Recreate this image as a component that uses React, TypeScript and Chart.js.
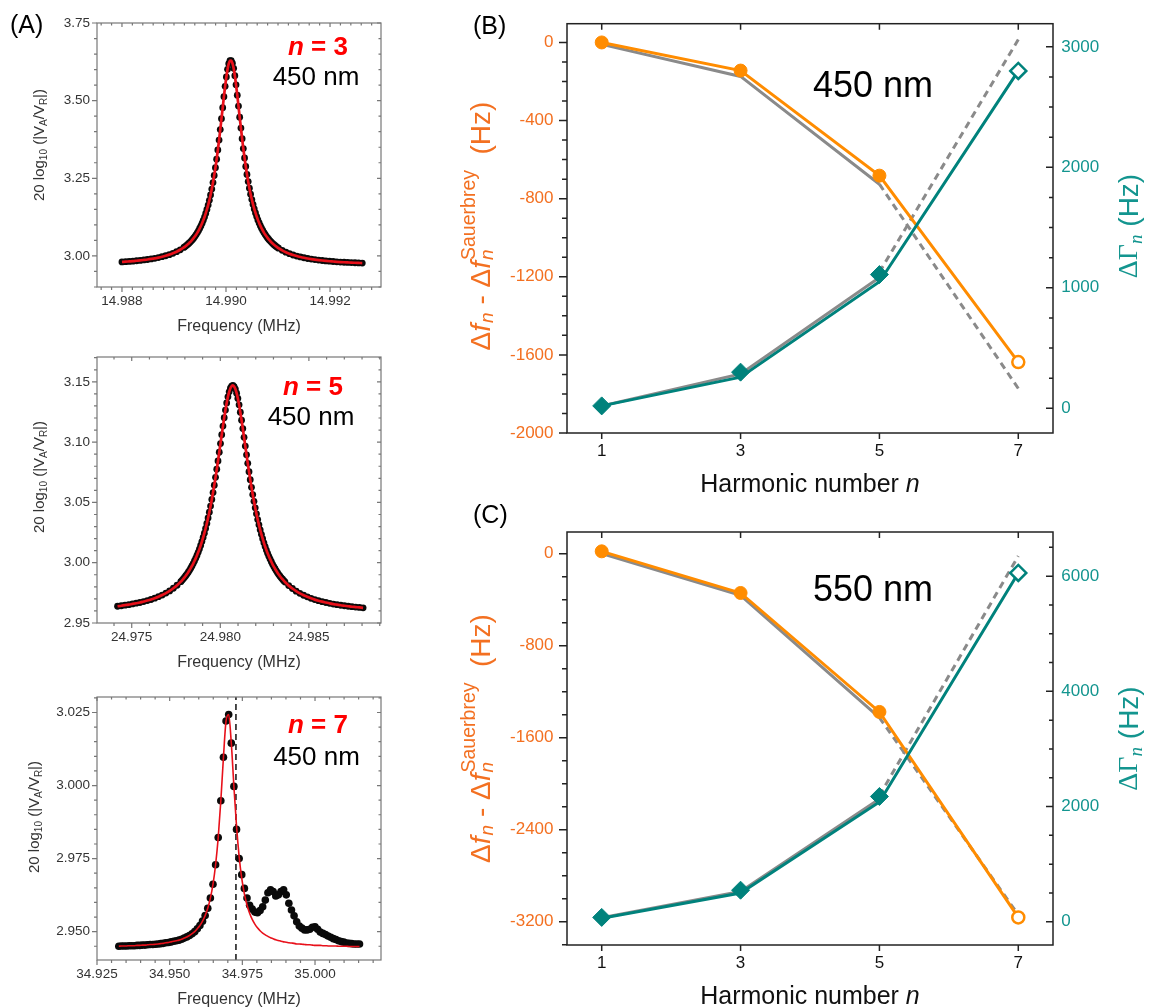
import React, { useEffect, useRef } from 'react';
import { Chart, registerables } from 'chart.js';

Chart.register(...registerables);

const PAGE_W = 1149;
const PAGE_H = 1008;
const SANS = '"Liberation Sans", Arial, Helvetica, sans-serif';
const SERIF = '"Liberation Serif", "Times New Roman", serif';

const ORANGE = '#FF8C00';
const ORANGE_TXT = '#F37021';
const TEAL = '#00827C';
const TEAL_TXT = '#13958F';
const GRAY = '#8A8A8A';
const RED = '#E8101A';
const RED_TXT = '#FF0000';

// ---------------- Panel A data (n = 3) ----------------
const A1_FREQ = [
  14.988, 14.98807, 14.98814, 14.98821, 14.98828, 14.98835, 14.98842, 14.98849, 14.98856, 14.98863,
  14.9887, 14.98877, 14.98884, 14.98891, 14.98898, 14.98905, 14.98912,
  14.98919, 14.989213, 14.989237, 14.98926, 14.989283, 14.989307, 14.98933, 14.989353, 14.989377,
  14.9894, 14.989423, 14.989447, 14.98947, 14.989493, 14.989517, 14.98954, 14.989563, 14.989587,
  14.98961, 14.989633, 14.989657, 14.98968, 14.989703, 14.989727, 14.98975, 14.989773, 14.989797,
  14.98982, 14.989843, 14.989867, 14.98989, 14.989913, 14.989937, 14.98996, 14.989983, 14.990007,
  14.99003, 14.990053, 14.990077, 14.9901, 14.990123, 14.990147, 14.99017, 14.990193, 14.990217,
  14.99024, 14.990263, 14.990287, 14.99031, 14.990333, 14.990357, 14.99038, 14.990403, 14.990427,
  14.99045, 14.990473, 14.990497, 14.99052, 14.990543, 14.990567, 14.99059, 14.990613, 14.990637,
  14.99066, 14.990683, 14.990707, 14.99073, 14.990753, 14.990777, 14.9908, 14.990823, 14.990847,
  14.99087, 14.990893, 14.990917, 14.99094, 14.990963, 14.990987,
  14.99101, 14.99108, 14.99115, 14.99122, 14.99129, 14.99136, 14.99143,
  14.9915, 14.99157, 14.99164, 14.99171, 14.99178, 14.99185, 14.99192, 14.99199, 14.99206, 14.99213,
  14.9922, 14.99227, 14.99234, 14.99241, 14.99248, 14.99255, 14.99262,
];
const A1_AMP = [
  2.9807, 2.9815, 2.9824, 2.9833, 2.9845, 2.9857, 2.9871, 2.9886, 2.9904, 2.9924,
  2.9948, 2.9975, 3.0006, 3.0042, 3.0085, 3.0137, 3.0198,
  3.0273, 3.0302, 3.0333, 3.0365, 3.0401, 3.0439, 3.048, 3.0524, 3.0573,
  3.0624, 3.0681, 3.0743, 3.081, 3.0883, 3.0963, 3.1051, 3.1147, 3.1252,
  3.1368, 3.1496, 3.1637, 3.1792, 3.1964, 3.2153, 3.2362, 3.259, 3.2841,
  3.3115, 3.3412, 3.373, 3.4067, 3.4418, 3.4775, 3.5128, 3.5462, 3.5762,
  3.601, 3.6189, 3.6285, 3.6291, 3.6208, 3.604, 3.5801, 3.5508, 3.5177,
  3.4826, 3.4469, 3.4116, 3.3777, 3.3456, 3.3156, 3.2879, 3.2625, 3.2393,
  3.2181, 3.199, 3.1816, 3.1658, 3.1515, 3.1386, 3.1268, 3.1161, 3.1064,
  3.0975, 3.0894, 3.082, 3.0752, 3.069, 3.0632, 3.058, 3.0531, 3.0486,
  3.0445, 3.0406, 3.037, 3.0337, 3.0306, 3.0277,
  3.025, 3.018, 3.0121, 3.0072, 3.0031, 2.9996, 2.9967,
  2.9941, 2.9918, 2.9899, 2.9882, 2.9867, 2.9853, 2.9841, 2.983, 2.9821, 2.9812,
  2.9804, 2.9797, 2.9791, 2.9785, 2.978, 2.9775, 2.977,
];
const A1_X_TICKS = [14.988, 14.99, 14.992];
const A1_Y_TICKS = [3.0, 3.25, 3.5, 3.75];

// ---------------- Panel A data (n = 5) ----------------
const A2_FREQ = [
  24.9742, 24.97441, 24.97462, 24.97483, 24.97504, 24.97525, 24.97546, 24.97567, 24.97588, 24.97609,
  24.9763, 24.97651, 24.97672, 24.97693, 24.97714, 24.97735, 24.97756,
  24.97777, 24.97784, 24.97791, 24.97798, 24.97805, 24.97812, 24.97819, 24.97826, 24.97833,
  24.9784, 24.97847, 24.97854, 24.97861, 24.97868, 24.97875, 24.97882, 24.97889, 24.97896,
  24.97903, 24.9791, 24.97917, 24.97924, 24.97931, 24.97938, 24.97945, 24.97952, 24.97959,
  24.97966, 24.97973, 24.9798, 24.97987, 24.97994, 24.98001, 24.98008, 24.98015, 24.98022,
  24.98029, 24.98036, 24.98043, 24.9805, 24.98057, 24.98064, 24.98071, 24.98078, 24.98085,
  24.98092, 24.98099, 24.98106, 24.98113, 24.9812, 24.98127, 24.98134, 24.98141, 24.98148,
  24.98155, 24.98162, 24.98169, 24.98176, 24.98183, 24.9819, 24.98197, 24.98204, 24.98211,
  24.98218, 24.98225, 24.98232, 24.98239, 24.98246, 24.98253, 24.9826, 24.98267, 24.98274,
  24.98281, 24.98288, 24.98295, 24.98302, 24.98309, 24.98316, 24.98323, 24.9833, 24.98337,
  24.98344, 24.98351, 24.98358,
  24.98365, 24.98386, 24.98407, 24.98428, 24.98449,
  24.9847, 24.98491, 24.98512, 24.98533, 24.98554, 24.98575, 24.98596, 24.98617, 24.98638, 24.98659,
  24.9868, 24.98701, 24.98722, 24.98743, 24.98764, 24.98785, 24.98806,
];
const A2_AMP = [
  2.9639, 2.9643, 2.9648, 2.9652, 2.9658, 2.9664, 2.967, 2.9678, 2.9686, 2.9695,
  2.9706, 2.9718, 2.9732, 2.9748, 2.9766, 2.9788, 2.9813,
  2.9843, 2.9854, 2.9866, 2.9879, 2.9892, 2.9906, 2.9921, 2.9937, 2.9955,
  2.9973, 2.9993, 3.0014, 3.0036, 3.006, 3.0086, 3.0113, 3.0143, 3.0175,
  3.0209, 3.0245, 3.0284, 3.0326, 3.0371, 3.0419, 3.047, 3.0525, 3.0582,
  3.0643, 3.0708, 3.0775, 3.0844, 3.0916, 3.0988, 3.1061, 3.1133, 3.1202,
  3.1266, 3.1325, 3.1376, 3.1417, 3.1447, 3.1465, 3.147, 3.1461, 3.144,
  3.1406, 3.1362, 3.1309, 3.1248, 3.1182, 3.1112, 3.104, 3.0967, 3.0895,
  3.0824, 3.0755, 3.0689, 3.0625, 3.0565, 3.0509, 3.0455, 3.0405, 3.0358,
  3.0314, 3.0273, 3.0235, 3.0199, 3.0165, 3.0134, 3.0105, 3.0078, 3.0053,
  3.003, 3.0008, 2.9987, 2.9968, 2.995, 2.9933, 2.9917, 2.9902, 2.9888,
  2.9875, 2.9863, 2.9851,
  2.984, 2.981, 2.9786, 2.9764, 2.9746,
  2.973, 2.9717, 2.9705, 2.9694, 2.9685, 2.9677, 2.967, 2.9663, 2.9657, 2.9652,
  2.9647, 2.9643, 2.9639, 2.9635, 2.9632, 2.9629, 2.9626,
];
const A2_X_TICKS = [24.975, 24.98, 24.985];
const A2_Y_TICKS = [2.95, 3.0, 3.05, 3.1, 3.15];

// ---------------- Panel A data (n = 7) ----------------
const A3_FREQ = [
  34.9325, 34.9334, 34.9343, 34.9352, 34.9361, 34.937, 34.9379, 34.9388, 34.9397, 34.9406,
  34.9415, 34.9424, 34.9433, 34.9442, 34.9451, 34.946, 34.9469, 34.9478, 34.9487, 34.9496,
  34.9505, 34.9514, 34.9523, 34.9532, 34.9541, 34.955, 34.9559, 34.9568, 34.9577, 34.9586,
  34.9595, 34.9604, 34.9613, 34.9622, 34.9631, 34.964, 34.9649, 34.9658, 34.9667, 34.9676,
  34.9685, 34.9694, 34.9703, 34.9712, 34.9721, 34.973, 34.9739, 34.9748, 34.9757, 34.9766,
  34.9775, 34.9784, 34.9793, 34.9802, 34.9811, 34.982, 34.9829, 34.9838, 34.9847, 34.9856,
  34.9865, 34.9874, 34.9883, 34.9892, 34.9901, 34.991, 34.9919, 34.9928, 34.9937, 34.9946,
  34.9955, 34.9964, 34.9973, 34.9982, 34.9991, 35.0, 35.0009, 35.0018, 35.0027, 35.0036,
  35.0045, 35.0054, 35.0063, 35.0072, 35.0081, 35.009, 35.0099, 35.0108, 35.0117, 35.0126,
  35.0135, 35.0144, 35.0153,
];
const A3_AMP = [
  2.945, 2.9451, 2.9451, 2.9451, 2.9452, 2.9452, 2.9452, 2.9453, 2.9453, 2.9454,
  2.9454, 2.9455, 2.9456, 2.9456, 2.9457, 2.9458, 2.9459, 2.946, 2.9462, 2.9463,
  2.9465, 2.9467, 2.9469, 2.9471, 2.9474, 2.9478, 2.9482, 2.9487, 2.9493, 2.95,
  2.951, 2.9521, 2.9536, 2.9555, 2.958, 2.9615, 2.9662, 2.9729, 2.9822, 2.9948,
  3.0097, 3.0221, 3.0243, 3.0145, 2.9997, 2.985, 2.975, 2.9695, 2.9648, 2.9615,
  2.959, 2.9577, 2.9567, 2.9565, 2.9572, 2.9585, 2.9608, 2.9633, 2.9643, 2.9637,
  2.9622, 2.9626, 2.9637, 2.9643, 2.9626, 2.9597, 2.9574, 2.9554, 2.9534, 2.9519,
  2.9512, 2.9506, 2.9506, 2.9508, 2.9515, 2.9517, 2.9508, 2.9499, 2.9494, 2.949,
  2.9485, 2.9481, 2.9476, 2.9473, 2.9469, 2.9466, 2.9464, 2.9461, 2.946, 2.9459,
  2.9458, 2.9458, 2.9458,
];
const A3_FIT = [
  2.945, 2.9451, 2.9451, 2.9451, 2.9452, 2.9452, 2.9452, 2.9453, 2.9453, 2.9454,
  2.9454, 2.9455, 2.9456, 2.9456, 2.9457, 2.9458, 2.9459, 2.946, 2.9462, 2.9463,
  2.9465, 2.9467, 2.9469, 2.9471, 2.9474, 2.9478, 2.9482, 2.9487, 2.9493, 2.95,
  2.951, 2.9521, 2.9536, 2.9555, 2.958, 2.9615, 2.9662, 2.9729, 2.9822, 2.9948,
  3.0097, 3.0221, 3.0243, 3.0145, 2.9997, 2.9861, 2.9757, 2.9682, 2.9629, 2.9591,
  2.9563, 2.9542, 2.9526, 2.9513, 2.9503, 2.9495, 2.9489, 2.9484, 2.9479, 2.9476,
  2.9472, 2.947, 2.9467, 2.9465, 2.9464, 2.9462, 2.9461, 2.946, 2.9458, 2.9458,
  2.9457, 2.9456, 2.9455, 2.9455, 2.9454, 2.9453, 2.9453, 2.9453, 2.9452, 2.9452,
  2.9451, 2.9451, 2.9451, 2.9451, 2.945, 2.945, 2.945, 2.945, 2.9449, 2.9449,
  2.9449, 2.9449, 2.9449,
];
const A3_MARKER_FREQ = 34.9728;
const A3_X_TICKS = [34.925, 34.95, 34.975, 35.0];
const A3_Y_TICKS = [2.95, 2.975, 3.0, 3.025];

// ---------------- Panels B and C ----------------
const HARMONICS = [1, 3, 5, 7];
const MODEL_N = [1, 3, 5];
const EXTRAP_N = [5, 7];

const B_DF = [0, -144, -682, -1637];
const B_DG = [20, 300, 1110, 2800];
const B_DG_LINE = [20, 258, 1050, 2800];
const B_DF_MODEL = [-10, -174, -726];
const B_DF_EXTRAP = [-726, -1772];
const B_DG_MODEL = [20, 285, 1085];
const B_DG_EXTRAP = [1130, 3060];
const B_LEFT_TICKS = [-2000, -1600, -1200, -800, -400, 0];
const B_RIGHT_TICKS = [0, 1000, 2000, 3000];

const C_DF = [20, -342, -1376, -3162];
const C_DG = [76, 548, 2175, 6055];
const C_DG_LINE = [60, 500, 2080, 6055];
const C_DF_MODEL = [0, -362, -1425];
const C_DF_EXTRAP = [-1425, -3140];
const C_DG_MODEL = [70, 525, 2130];
const C_DG_EXTRAP = [2190, 6350];
const C_LEFT_TICKS = [-3200, -2400, -1600, -800, 0];
const C_RIGHT_TICKS = [0, 2000, 4000, 6000];

// ---------------- helpers ----------------
const pts = (xs: number[], ys: number[]) => xs.map((x, i) => ({ x, y: ys[i] }));

function minorValues(min: number, max: number, step: number, majors: number[]) {
  if (!step) return [];
  const out: number[] = [];
  const start = Math.ceil(min / step - 1e-6);
  for (let i = start; i * step <= max + step * 1e-6; i++) {
    const v = i * step;
    if (majors.some((m) => Math.abs(m - v) < step * 1e-3)) continue;
    out.push(v);
  }
  return out;
}

function makeFramePlugin(cfg: any) {
  return {
    id: 'frameTicks',
    afterDatasetsDraw(chart: any) {
      const { ctx, chartArea: a } = chart;
      ctx.save();
      ctx.strokeStyle = cfg.color;
      ctx.lineWidth = cfg.width;
      ctx.strokeRect(a.left, a.top, a.right - a.left, a.bottom - a.top);
      for (const s of cfg.sides) {
        const sc = chart.scales[s.scale];
        const list: any[] = s.major.map((v: number) => [v, s.majorLen]).concat(
          minorValues(sc.min, sc.max, s.minorStep, s.major).map((v) => [v, s.minorLen])
        );
        ctx.beginPath();
        for (const [v, len] of list) {
          const p = sc.getPixelForValue(v);
          if (s.pos === 'left' || s.pos === 'right') {
            if (p < a.top - 0.5 || p > a.bottom + 0.5) continue;
            const x0 = s.pos === 'left' ? a.left : a.right;
            const dir = (s.pos === 'left' ? -1 : 1) * (s.out ? 1 : -1);
            ctx.moveTo(x0, p);
            ctx.lineTo(x0 + dir * len, p);
          } else {
            if (p < a.left - 0.5 || p > a.right + 0.5) continue;
            const y0 = s.pos === 'top' ? a.top : a.bottom;
            const dir = (s.pos === 'top' ? -1 : 1) * (s.out ? 1 : -1);
            ctx.moveTo(p, y0);
            ctx.lineTo(p, y0 + dir * len);
          }
        }
        ctx.stroke();
      }
      ctx.restore();
    },
  };
}

function drawRich(ctx: CanvasRenderingContext2D, it: any) {
  ctx.save();
  ctx.translate(it.x, it.y);
  if (it.angle) ctx.rotate(it.angle);
  ctx.textBaseline = 'middle';
  ctx.textAlign = 'left';
  let total = 0;
  const widths = it.runs.map((r: any) => {
    ctx.font = r.font;
    const w = ctx.measureText(r.t).width;
    if (!r.stack) total += w + (r.dx || 0);
    return w;
  });
  let x = it.align === 'left' ? 0 : it.align === 'right' ? -total : -total / 2;
  it.runs.forEach((r: any, i: number) => {
    ctx.font = r.font;
    ctx.fillStyle = r.color || it.color || '#000';
    ctx.fillText(r.t, x + (r.dx || 0), r.dy || 0);
    if (!r.stack) x += widths[i] + (r.dx || 0);
  });
  ctx.restore();
}

function makeTextPlugin(items: any[]) {
  return {
    id: 'richText',
    afterDraw(chart: any) {
      for (const it of items) drawRich(chart.ctx, it);
    },
  };
}

// ---------------- Panel A builder ----------------
function yTitleA(x: number, y: number) {
  const f = `15px ${SANS}`;
  const s = `10px ${SANS}`;
  return {
    x, y, angle: -Math.PI / 2, align: 'center', color: '#333',
    runs: [
      { t: '20 log', font: f },
      { t: '10', font: s, dy: 4 },
      { t: ' (|V', font: f },
      { t: 'A', font: s, dy: 4 },
      { t: '/V', font: f },
      { t: 'R', font: s, dy: 4 },
      { t: '|)', font: f },
    ],
  };
}

function buildA(p: any) {
  const { L, T, R, B } = p.area;
  const tickFont = { family: SANS, size: 13.5 };
  const texts = [
    ...(p.panelLabel ? [{ x: 10, y: 26, align: 'left', runs: [{ t: p.panelLabel, font: `25px ${SANS}` }] }] : []),
    {
      x: p.nPos[0], y: p.nPos[1], align: 'center', color: RED_TXT,
      runs: [
        { t: 'n', font: `italic bold 26px ${SANS}` },
        { t: ` = ${p.n}`, font: `bold 26px ${SANS}` },
      ],
    },
    { x: p.nmPos[0], y: p.nmPos[1], align: 'center', runs: [{ t: '450 nm', font: `26px ${SANS}` }] },
    yTitleA(p.yTitle[0], p.yTitle[1]),
    { x: (L + R) / 2, y: B + 40, align: 'center', color: '#333', runs: [{ t: 'Frequency (MHz)', font: `16px ${SANS}` }] },
  ];
  return {
    type: 'scatter',
    data: { datasets: p.datasets },
    options: {
      responsive: false,
      animation: false,
      events: [],
      layout: { padding: { left: L - 50, top: T, right: PAGE_W - R, bottom: PAGE_H - B - 30 } },
      plugins: { legend: { display: false }, tooltip: { enabled: false } },
      scales: {
        x: {
          type: 'linear', position: 'bottom', min: p.xMin, max: p.xMax, bounds: 'data',
          afterBuildTicks: (s: any) => { s.ticks = p.xTicks.map((v: number) => ({ value: v })); },
          afterFit: (s: any) => { s.height = 30; },
          grid: { display: false, drawTicks: false }, border: { display: false },
          ticks: { autoSkip: false, maxRotation: 0, minRotation: 0, padding: 6.5, color: '#333', font: tickFont,
            callback: (v: any) => Number(v).toFixed(p.xDec) },
        },
        y: {
          type: 'linear', position: 'left', min: p.yMin, max: p.yMax, bounds: 'data',
          afterBuildTicks: (s: any) => { s.ticks = p.yTicks.map((v: number) => ({ value: v })); },
          afterFit: (s: any) => { s.width = 50; },
          grid: { display: false, drawTicks: false }, border: { display: false },
          ticks: { autoSkip: false, padding: 7, color: '#333', font: tickFont,
            callback: (v: any) => Number(v).toFixed(p.yDec) },
        },
      },
    },
    plugins: [
      makeFramePlugin({
        color: '#777', width: 1.2,
        sides: [
          { pos: 'left', scale: 'y', major: p.yTicks, minorStep: p.yMinor, out: true, majorLen: 5, minorLen: 3 },
          { pos: 'right', scale: 'y', major: p.yTicks, minorStep: p.yMinor, out: false, majorLen: 4, minorLen: 2.5 },
          { pos: 'bottom', scale: 'x', major: p.xTicks, minorStep: p.xMinor, out: true, majorLen: 5, minorLen: 3 },
          { pos: 'top', scale: 'x', major: p.xTicks, minorStep: p.xMinor, out: false, majorLen: 4, minorLen: 2.5 },
        ],
      }),
      makeTextPlugin(texts),
    ],
  };
}

function dotsDataset(xs: number[], ys: number[], r: number) {
  return {
    data: pts(xs, ys), showLine: false, pointRadius: r, pointBackgroundColor: '#0a0a0a',
    pointBorderColor: '#0a0a0a', pointBorderWidth: 0, order: 2,
  };
}
function fitDataset(xs: number[], ys: number[], w: number) {
  return {
    data: pts(xs, ys), showLine: true, borderColor: RED, borderWidth: w, pointRadius: 0,
    cubicInterpolationMode: 'monotone', order: 0,
  };
}

// ---------------- Panel B/C builder ----------------
function leftTitleBC(x: number, y: number) {
  const big = `28px ${SANS}`;
  const bigI = `italic 28px ${SANS}`;
  const smI = `italic 19px ${SANS}`;
  const sm = `19.5px ${SANS}`;
  return {
    x, y, angle: -Math.PI / 2, align: 'center', color: ORANGE_TXT,
    runs: [
      { t: 'Δ', font: big },
      { t: 'f', font: bigI },
      { t: 'n', font: smI, dy: 6, dx: 1 },
      { t: ' - ', font: big },
      { t: 'Δ', font: big },
      { t: 'f', font: bigI },
      { t: 'n', font: smI, dy: 6, dx: 1, stack: true },
      { t: 'Sauerbrey', font: sm, dy: -12, dx: 1 },
      { t: '  (Hz)', font: big },
    ],
  };
}
function rightTitleBC(x: number, y: number) {
  return {
    x, y, angle: -Math.PI / 2, align: 'center', color: TEAL_TXT,
    runs: [
      { t: 'ΔΓ', font: `28px ${SERIF}` },
      { t: 'n', font: `italic 19px ${SERIF}`, dy: 7 },
      { t: ' (Hz)', font: `28px ${SANS}` },
    ],
  };
}

function buildBC(p: any) {
  const { L, T, R, B } = p.area;
  const tickFont = { family: SANS, size: 17 };
  const openBg = (c: string) => [c, c, c, '#FFFFFF'];
  const datasets = [
    { data: pts(MODEL_N, p.dfModel), yAxisID: 'yL', showLine: true, borderColor: GRAY, borderWidth: 3, pointRadius: 0, order: 10 },
    { data: pts(EXTRAP_N, p.dfExtrap), yAxisID: 'yL', showLine: true, borderColor: GRAY, borderWidth: 3, borderDash: [7, 5], pointRadius: 0, order: 10 },
    { data: pts(MODEL_N, p.dgModel), yAxisID: 'yR', showLine: true, borderColor: GRAY, borderWidth: 3, pointRadius: 0, order: 10 },
    { data: pts(EXTRAP_N, p.dgExtrap), yAxisID: 'yR', showLine: true, borderColor: GRAY, borderWidth: 3, borderDash: [7, 5], pointRadius: 0, order: 10 },
    { data: pts(HARMONICS, p.df), yAxisID: 'yL', showLine: true, borderColor: ORANGE, borderWidth: 3, pointRadius: 0, order: 5 },
    { data: pts(HARMONICS, p.dgLine), yAxisID: 'yR', showLine: true, borderColor: TEAL, borderWidth: 3, pointRadius: 0, order: 4 },
    {
      data: pts(HARMONICS, p.df), yAxisID: 'yL', showLine: false, pointStyle: 'circle',
      pointRadius: [6.5, 6.5, 6.5, 6], pointBackgroundColor: openBg(ORANGE), pointBorderColor: ORANGE,
      pointBorderWidth: [1, 1, 1, 2.5], order: 1,
    },
    {
      data: pts(HARMONICS, p.dg), yAxisID: 'yR', showLine: false, pointStyle: 'rectRot',
      pointRadius: [9, 9, 9, 8], pointBackgroundColor: openBg(TEAL), pointBorderColor: TEAL,
      pointBorderWidth: [1, 1, 1, 2.5], order: 0,
    },
  ];
  const midY = (T + B) / 2;
  const texts = [
    { x: 473, y: p.labelY, align: 'left', runs: [{ t: p.panelLabel, font: `25px ${SANS}` }] },
    { x: 873, y: p.nmY, align: 'center', runs: [{ t: p.nmText, font: `36px ${SANS}` }] },
    leftTitleBC(482, midY),
    rightTitleBC(1130, midY),
    {
      x: (L + R) / 2, y: B + 52, align: 'center', color: '#111',
      runs: [
        { t: 'Harmonic number ', font: `25px ${SANS}` },
        { t: 'n', font: `italic 25px ${SANS}` },
      ],
    },
  ];
  return {
    type: 'scatter',
    data: { datasets },
    options: {
      responsive: false,
      animation: false,
      events: [],
      layout: { padding: { left: L - 70, top: T, right: PAGE_W - R - 60, bottom: PAGE_H - B - 30 } },
      plugins: { legend: { display: false }, tooltip: { enabled: false } },
      scales: {
        x: {
          type: 'linear', position: 'bottom', min: 0.5, max: 7.5, bounds: 'data',
          afterBuildTicks: (s: any) => { s.ticks = HARMONICS.map((v) => ({ value: v })); },
          afterFit: (s: any) => { s.height = 30; },
          grid: { display: false, drawTicks: false }, border: { display: false },
          ticks: { autoSkip: false, maxRotation: 0, minRotation: 0, padding: 8, color: '#111', font: tickFont,
            callback: (v: any) => String(v) },
        },
        yL: {
          type: 'linear', position: 'left', min: p.yL[0], max: p.yL[1], bounds: 'data',
          afterBuildTicks: (s: any) => { s.ticks = p.leftTicks.map((v: number) => ({ value: v })); },
          afterFit: (s: any) => { s.width = 70; },
          grid: { display: false, drawTicks: false }, border: { display: false },
          ticks: { autoSkip: false, padding: 13.5, color: ORANGE_TXT, font: tickFont, callback: (v: any) => String(v) },
        },
        yR: {
          type: 'linear', position: 'right', min: p.yR[0], max: p.yR[1], bounds: 'data',
          afterBuildTicks: (s: any) => { s.ticks = p.rightTicks.map((v: number) => ({ value: v })); },
          afterFit: (s: any) => { s.width = 60; },
          grid: { display: false, drawTicks: false }, border: { display: false },
          ticks: { autoSkip: false, padding: 8.3, color: TEAL_TXT, font: tickFont, callback: (v: any) => String(v) },
        },
      },
    },
    plugins: [
      makeFramePlugin({
        color: '#222', width: 1.5,
        sides: [
          { pos: 'left', scale: 'yL', major: p.leftTicks, minorStep: p.leftMinor, out: true, majorLen: 8, minorLen: 5 },
          { pos: 'right', scale: 'yR', major: p.rightTicks, minorStep: p.rightMinor, out: false, majorLen: 7, minorLen: 4 },
          { pos: 'bottom', scale: 'x', major: HARMONICS, minorStep: 0, out: true, majorLen: 6, minorLen: 0 },
          { pos: 'top', scale: 'x', major: HARMONICS, minorStep: 0, out: false, majorLen: 6, minorLen: 0 },
        ],
      }),
      makeTextPlugin(texts),
    ],
  };
}

// ---------------- configs ----------------
const buildA1 = () =>
  buildA({
    area: { L: 97, T: 23, R: 381, B: 287 },
    xMin: 14.98752, xMax: 14.99298, yMin: 2.9, yMax: 3.75,
    xTicks: A1_X_TICKS, yTicks: A1_Y_TICKS, xMinor: 0.0002, yMinor: 0.05, xDec: 3, yDec: 2,
    panelLabel: '(A)', n: 3, nPos: [318, 48], nmPos: [316, 78], yTitle: [40, 145],
    datasets: [fitDataset(A1_FREQ, A1_AMP, 2.7), dotsDataset(A1_FREQ, A1_AMP, 3.4)],
  });

const buildA2 = () =>
  buildA({
    area: { L: 97, T: 357, R: 381, B: 623 },
    xMin: 24.97304, xMax: 24.98907, yMin: 2.95, yMax: 3.1706,
    xTicks: A2_X_TICKS, yTicks: A2_Y_TICKS, xMinor: 0.001, yMinor: 0.01, xDec: 3, yDec: 2,
    panelLabel: '', n: 5, nPos: [313, 388], nmPos: [311, 417.5], yTitle: [40, 477],
    datasets: [fitDataset(A2_FREQ, A2_AMP, 2.7), dotsDataset(A2_FREQ, A2_AMP, 3.4)],
  });

const buildA3 = () =>
  buildA({
    area: { L: 97, T: 697, R: 381, B: 960 },
    xMin: 34.925, xMax: 35.0227, yMin: 2.9403, yMax: 3.0303,
    xTicks: A3_X_TICKS, yTicks: A3_Y_TICKS, xMinor: 0.005, yMinor: 0.005, xDec: 3, yDec: 3,
    panelLabel: '', n: 7, nPos: [318, 726], nmPos: [316.5, 758], yTitle: [35, 817],
    datasets: [
      fitDataset(A3_FREQ, A3_FIT, 1.6),
      dotsDataset(A3_FREQ, A3_AMP, 3.8),
      {
        data: [{ x: A3_MARKER_FREQ, y: 2.9403 }, { x: A3_MARKER_FREQ, y: 3.0303 }],
        showLine: true, borderColor: '#111', borderWidth: 1.5, borderDash: [6, 4], pointRadius: 0, order: 3,
      },
    ],
  });

const buildB = () =>
  buildBC({
    area: { L: 567, T: 19, R: 1053, B: 433 },
    yL: [-2000, 96], yR: [-205, 3192],
    leftTicks: B_LEFT_TICKS, rightTicks: B_RIGHT_TICKS, leftMinor: 100, rightMinor: 250,
    df: B_DF, dg: B_DG, dgLine: B_DG_LINE, dfModel: B_DF_MODEL, dfExtrap: B_DF_EXTRAP,
    dgModel: B_DG_MODEL, dgExtrap: B_DG_EXTRAP,
    panelLabel: '(B)', labelY: 27.5, nmText: '450 nm', nmY: 87,
  });

const buildC = () =>
  buildBC({
    area: { L: 567, T: 532, R: 1053, B: 945 },
    yL: [-3402, 188], yR: [-403, 6766],
    leftTicks: C_LEFT_TICKS, rightTicks: C_RIGHT_TICKS, leftMinor: 200, rightMinor: 500,
    df: C_DF, dg: C_DG, dgLine: C_DG_LINE, dfModel: C_DF_MODEL, dfExtrap: C_DF_EXTRAP,
    dgModel: C_DG_MODEL, dgExtrap: C_DG_EXTRAP,
    panelLabel: '(C)', labelY: 516.5, nmText: '550 nm', nmY: 591,
  });

function ChartCanvas({ build }: { build: () => any }) {
  const ref = useRef<HTMLCanvasElement | null>(null);
  useEffect(() => {
    const chart = new Chart(ref.current as HTMLCanvasElement, build());
    return () => chart.destroy();
  }, [build]);
  return (
    <canvas
      ref={ref}
      width={PAGE_W}
      height={PAGE_H}
      style={{ position: 'absolute', left: 0, top: 0, width: PAGE_W, height: PAGE_H }}
    />
  );
}

export default function App() {
  return (
    <div style={{ position: 'absolute', left: 0, top: 0, width: PAGE_W, height: PAGE_H, background: '#fff', overflow: 'hidden' }}>
      <ChartCanvas build={buildA1} />
      <ChartCanvas build={buildA2} />
      <ChartCanvas build={buildA3} />
      <ChartCanvas build={buildB} />
      <ChartCanvas build={buildC} />
    </div>
  );
}
